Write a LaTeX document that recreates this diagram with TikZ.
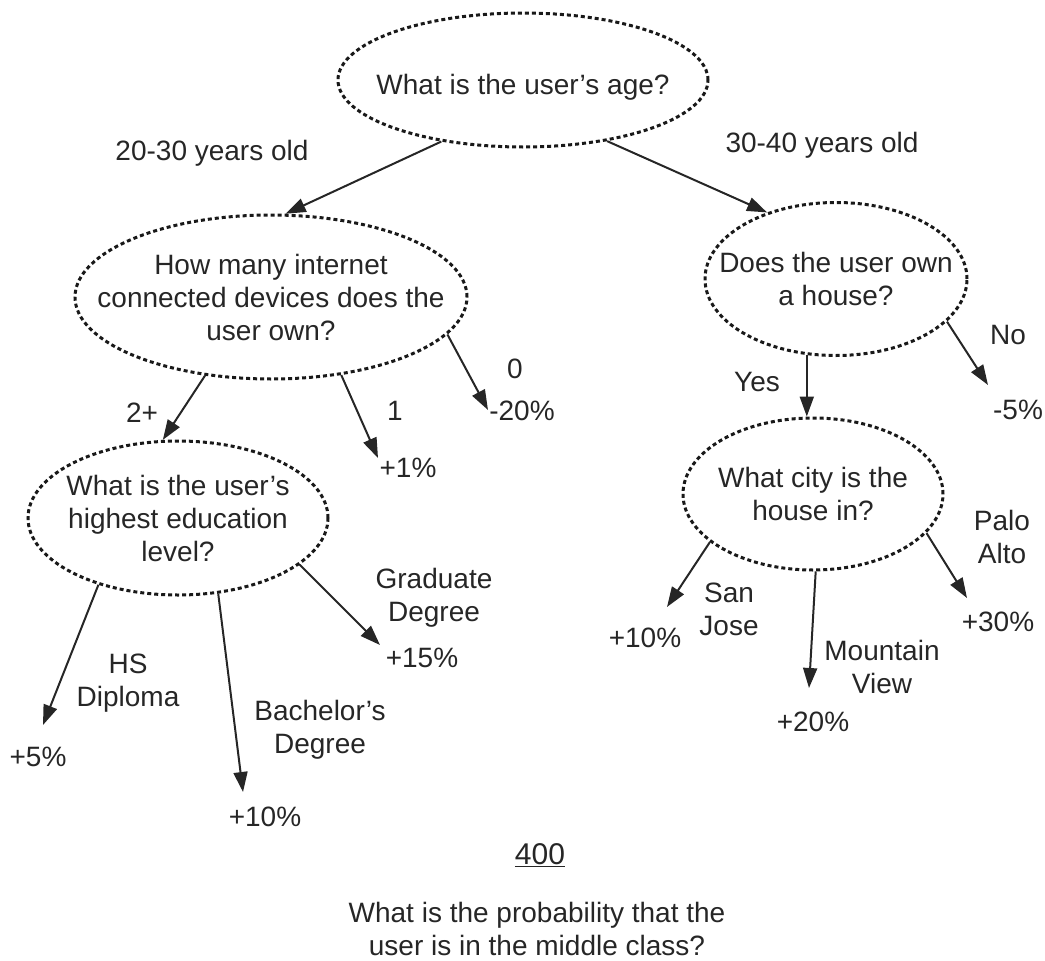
\documentclass[tikz,border=0pt]{standalone}
\usepackage{fontspec}
\setmainfont{Liberation Sans}
\usetikzlibrary{shapes.geometric}
\usetikzlibrary{arrows.meta}
\tikzset{ques/.style={draw=black!90,ellipse,dash pattern=on 4pt off 3pt,line width=3pt,inner sep=0pt}}
\tikzset{lbl/.style={align=center,inner sep=0pt,text=black!85}}
\tikzset{arr/.style={->,line width=2pt,draw=black!85,fill=black!85}}
\tikzset{>={Triangle[length=20pt,width=14pt]}}

\begin{document}
\begin{tikzpicture}[x=1pt,y=-1pt,font=\fontsize{28}{33}\selectfont]
\useasboundingbox (0,0) rectangle (1045,961);

% the questions
\node[ques,minimum width=370pt,minimum height=134pt,label={[lbl,yshift=-7pt]center:What is the user’s age?}] (age) at (523,80) {};
\node[ques,minimum width=392pt,minimum height=164pt,label={[lbl]center:{How many internet\\connected devices does the\\user own?}}] (dev) at (271,297) {};
\node[ques,minimum width=262pt,minimum height=153pt,label={[lbl]center:{Does the user own\\a house?}}] (house) at (836,279) {};
\node[ques,minimum width=300pt,minimum height=154pt,label={[lbl]center:{What is the user’s\\highest education\\level?}}] (edu) at (178,518) {};
\node[ques,minimum width=260pt,minimum height=152pt,label={[lbl]center:{What city is the\\house in?}}] (city) at (813,494) {};

% branch labels
\node[lbl] (l2030) at (212,153) {20-30 years old};
\node[lbl] (l3040) at (822,145) {30-40 years old};
\node[lbl] (ltwo) at (142,413) {2+};
\node[lbl] (lone) at (395,411) {1};
\node[lbl] (lzero) at (515,369) {0};
\node[lbl] (lyes) at (757,382) {Yes};
\node[lbl] (lno) at (1008,335) {No};
\node[lbl] (lhs) at (128,683) {HS\\Diploma};
\node[lbl] (lba) at (320,730) {Bachelor’s\\Degree};
\node[lbl] (lgd) at (434,598) {Graduate\\Degree};
\node[lbl] (lsj) at (729,609) {San\\Jose};
\node[lbl] (lmv) at (882,667) {Mountain\\View};
\node[lbl] (lpa) at (1002,537) {Palo\\Alto};

% values
\node[lbl] (vone) at (408,468) {+1\%};
\node[lbl] (vzero) at (522,411) {-20\%};
\node[lbl] (vno) at (1018,410) {-5\%};
\node[lbl] (vhs) at (38,757) {+5\%};
\node[lbl] (vba) at (265,817) {+10\%};
\node[lbl] (vgd) at (422,658) {+15\%};
\node[lbl] (vsj) at (645,638) {+10\%};
\node[lbl] (vmv) at (813,722) {+20\%};
\node[lbl] (vpa) at (998,622) {+30\%};

\node[lbl,font=\fontsize{30}{36}\selectfont] (num) at (540,855) {\underline{400}};
\node[lbl] (title) at (537,929) {What is the probability that the\\user is in the middle class?};

% arrow ends
\coordinate (tone) at (378,458);
\coordinate (tzero) at (488,410);
\coordinate (tno) at (988,385);
\coordinate (ths) at (43,725);
\coordinate (tba) at (243,792);
\coordinate (tgd) at (380,645);
\coordinate (tsj) at (667,607);
\coordinate (tmv) at (809,688);
\coordinate (tpa) at (967,598);

\draw[arr] (age.217) -- (dev.80);
\draw[arr] (age.324) -- (house.136);
\draw[arr] (dev.230) -- (edu.101);
\draw[arr] (dev.312) -- (tone);
\draw[arr] (dev.348) -- (tzero);
\draw[arr] (house.249) -- (house.249 |- city.north);
\draw[arr] (house.339) -- (tno);
\draw[arr] (edu.220) -- (ths);
\draw[arr] (edu.298) -- (tba);
\draw[arr] (edu.339) -- (tgd);
\draw[arr] (city.205) -- (tsj);
\draw[arr] (city.272) -- (tmv);
\draw[arr] (city.341) -- (tpa);
\end{tikzpicture}
\end{document}
